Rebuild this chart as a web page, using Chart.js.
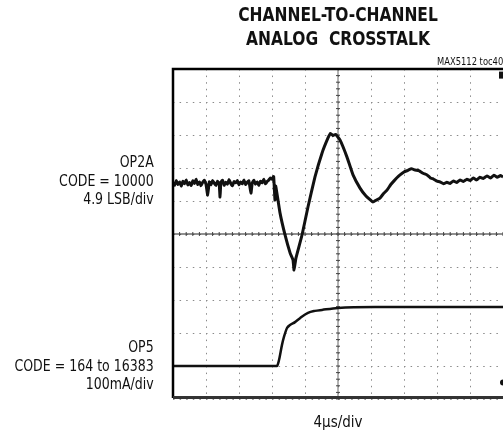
<!DOCTYPE html>
<html>
<head>
<meta charset="utf-8">
<script src="https://cdn.jsdelivr.net/npm/chart.js@4"></script>
<style>
  html, body { margin: 0; padding: 0; background: #fff; }
  #wrap { position: relative; width: 503px; height: 435px; overflow: hidden; }
  canvas { position: absolute; left: 0; top: 0; }
  .lbl { position: absolute; font-family: "Liberation Sans Narrow", "DejaVu Sans Condensed", "Liberation Sans", sans-serif; font-stretch: condensed; color: #111; white-space: nowrap; }
  .title { left: 173px; width: 330px; text-align: center; font-weight: bold; font-size: 20px; line-height: 24px; transform: scaleX(0.86); transform-origin: 165px 0; }
  .side { right: 349px; text-align: right; font-size: 15px; line-height: 18.5px; transform: scaleX(0.93); transform-origin: right top; }
</style>
</head>
<body>
<div id="wrap">
  <canvas id="scope" width="503" height="435"></canvas>
  <div class="lbl title" style="top:2px">CHANNEL-TO-CHANNEL<br>ANALOG&nbsp;&nbsp;CROSSTALK</div>
  <div class="lbl" style="right:0; top:56px; font-size:10px; transform:scaleX(0.93); transform-origin:right top;">MAX5112 toc40</div>
  <div class="lbl side" style="top:153px">OP2A<br>CODE = 10000<br>4.9 LSB/div</div>
  <div class="lbl side" style="top:338px">OP5<br>CODE = 164 to 16383<br>100mA/div</div>
  <div class="lbl" style="left:173px; width:330px; text-align:center; top:413px; font-size:15px;">4µs/div</div>
</div>
<script>
// time in µs (4µs/div), amplitude in scope divisions (centre = 0)
const op2aTime = [0, 0.2, 0.4, 0.6, 0.8, 1.0, 1.2, 1.4, 1.6, 1.8, 2.0, 2.2, 2.4, 2.6, 2.8, 3.0, 3.2, 3.4, 3.6, 3.8, 4.0, 4.2, 4.4, 4.6, 4.8, 5.0, 5.2, 5.4, 5.6, 5.7, 5.8,
  6.0, 6.2, 6.4, 6.6, 6.8, 7.0, 7.2, 7.4, 7.6, 7.8, 8.0, 8.2, 8.4, 8.6, 8.8, 9.0, 9.2, 9.45, 9.6, 9.8, 10.0, 10.2, 10.4, 10.6, 10.8, 11.0, 11.2, 11.4, 11.6, 11.8, 12.0, 12.2, 12.36, 12.45,
  12.97, 13.58, 14.2, 14.55, 14.67, 14.9, 15.64, 16.36, 17.21, 18.06, 18.79, 19.1, 19.39, 19.7, 20.24, 21.09, 21.82, 22.67, 23.39,
  24.24, 24.6, 25.09, 25.5, 25.94, 26.4, 26.79, 27.2, 27.52, 28.0, 28.48, 28.9, 29.33, 29.8, 30.3, 30.79, 31.2, 31.6, 32.0, 32.36, 32.8, 33.2, 33.58,
  34.0, 34.4, 34.8, 35.2, 35.64, 36.0, 36.4, 36.8, 37.2, 37.6, 38.06, 38.5, 38.9, 39.3, 39.7, 40];
const op2aDiv = [1.55, 1.48, 1.62, 1.50, 1.58, 1.45, 1.60, 1.52, 1.64, 1.49, 1.56, 1.47, 1.61, 1.53, 1.66, 1.50, 1.58, 1.46, 1.57, 1.63, 1.51, 1.18, 1.58, 1.49, 1.62, 1.54, 1.47, 1.60, 1.52, 1.12, 1.56,
  1.63, 1.48, 1.57, 1.51, 1.65, 1.53, 1.46, 1.59, 1.55, 1.62, 1.49, 1.58, 1.52, 1.64, 1.50, 1.57, 1.61, 1.24, 1.54, 1.63, 1.51, 1.58, 1.47, 1.60, 1.55, 1.66, 1.52, 1.59, 1.63, 1.70, 1.66, 1.74, 1.03, 1.45,
  0.64, -0.03, -0.58, -0.79, -1.09, -0.73, -0.03, 0.82, 1.73, 2.45, 2.91, 3.05, 2.98, 3.02, 2.85, 2.33, 1.79, 1.39, 1.15,
  0.97, 1.02, 1.09, 1.22, 1.33, 1.50, 1.61, 1.72, 1.79, 1.88, 1.93, 1.98, 1.94, 1.92, 1.84, 1.79, 1.70, 1.66, 1.60, 1.58, 1.52, 1.57, 1.53,
  1.61, 1.56, 1.64, 1.59, 1.66, 1.62, 1.70, 1.64, 1.72, 1.68, 1.76, 1.70, 1.78, 1.72, 1.77, 1.73];

const op5Time = [0, 12.6, 12.85, 13.21, 13.45, 13.82, 14.18, 14.79, 15.39, 16.36, 17.21, 18.06, 20.0, 24.5, 40];
const op5Div = [-4.0, -4.0, -3.82, -3.36, -3.12, -2.85, -2.76, -2.67, -2.55, -2.39, -2.33, -2.30, -2.24, -2.21, -2.21];

const xTicks = [0, 4, 8, 12, 16, 20, 24, 28, 32, 36, 40];
const yTicks = [-5, -4, -3, -2, -1, 0, 1, 2, 3, 4, 5];

const toPoints = (xs, ys) => xs.map((x, i) => ({ x: x, y: ys[i] }));

// centre cross with small ticks, plus the frame
const scopeFrame = {
  id: 'scopeFrame',
  beforeDatasetsDraw(chart) {
    const { ctx, chartArea: a, scales: { x, y } } = chart;
    const cx = x.getPixelForValue(20), cy = y.getPixelForValue(0);
    ctx.save();
    ctx.strokeStyle = '#222';
    ctx.lineWidth = 1.2;
    ctx.beginPath();
    ctx.moveTo(a.left, cy); ctx.lineTo(a.right, cy);
    ctx.stroke();
    ctx.strokeStyle = '#666';
    ctx.lineWidth = 1;
    ctx.beginPath();
    ctx.moveTo(cx, a.top); ctx.lineTo(cx, a.bottom);
    ctx.stroke();
    ctx.strokeStyle = '#444';
    ctx.beginPath();
    for (let v = 0; v <= 40; v += 0.8) {
      const px = x.getPixelForValue(v);
      ctx.moveTo(px, cy - 2); ctx.lineTo(px, cy + 2);
    }
    for (let v = -5; v <= 5; v += 0.2) {
      const py = y.getPixelForValue(v);
      ctx.moveTo(cx - 2, py); ctx.lineTo(cx + 2, py);
    }
    ctx.stroke();
    ctx.restore();
  },
  afterDraw(chart) {
    const { ctx, chartArea: a, scales: { y } } = chart;
    ctx.save();
    ctx.strokeStyle = '#000';
    ctx.lineWidth = 2.5;
    ctx.beginPath();
    ctx.moveTo(a.left, a.bottom - 1);
    ctx.lineTo(a.left, a.top);
    ctx.lineTo(a.right, a.top);
    ctx.stroke();
    ctx.strokeStyle = '#333';
    ctx.lineWidth = 3;
    ctx.beginPath();
    ctx.moveTo(a.left, a.bottom - 1.5); ctx.lineTo(a.right, a.bottom - 1.5);
    ctx.stroke();
    // channel markers on right edge
    ctx.fillStyle = '#111';
    ctx.fillRect(a.right - 4, y.getPixelForValue(4.8) - 4, 4, 7);
    ctx.beginPath();
    ctx.arc(a.right, y.getPixelForValue(-4.5), 3, 0, Math.PI * 2);
    ctx.fill();
    ctx.restore();
  }
};

new Chart(document.getElementById('scope'), {
  type: 'line',
  data: {
    datasets: [
      {
        label: 'OP2A',
        data: toPoints(op2aTime, op2aDiv),
        borderColor: '#111',
        borderWidth: 3,
        tension: 0.1,
        pointRadius: 0
      },
      {
        label: 'OP5',
        data: toPoints(op5Time, op5Div),
        borderColor: '#111',
        borderWidth: 2.5,
        cubicInterpolationMode: 'monotone',
        pointRadius: 0
      }
    ]
  },
  options: {
    responsive: false,
    animation: false,
    layout: { padding: { left: 173, top: 69, right: 0, bottom: 36 } },
    plugins: { legend: { display: false }, tooltip: { enabled: false }, title: { display: false } },
    scales: {
      x: {
        type: 'linear', min: 0, max: 40,
        afterBuildTicks: (s) => { s.ticks = xTicks.map(v => ({ value: v })); },
        ticks: { display: false },
        grid: { color: '#8a8a8a', lineWidth: 1, drawTicks: false },
        border: { display: false, dash: [1.5, 5.1] }
      },
      y: {
        min: -5, max: 5,
        afterBuildTicks: (s) => { s.ticks = yTicks.map(v => ({ value: v })); },
        ticks: { display: false },
        grid: { color: '#8a8a8a', lineWidth: 1, drawTicks: false },
        border: { display: false, dash: [1.5, 5.1] }
      }
    }
  },
  plugins: [scopeFrame]
});
</script>
</body>
</html>
